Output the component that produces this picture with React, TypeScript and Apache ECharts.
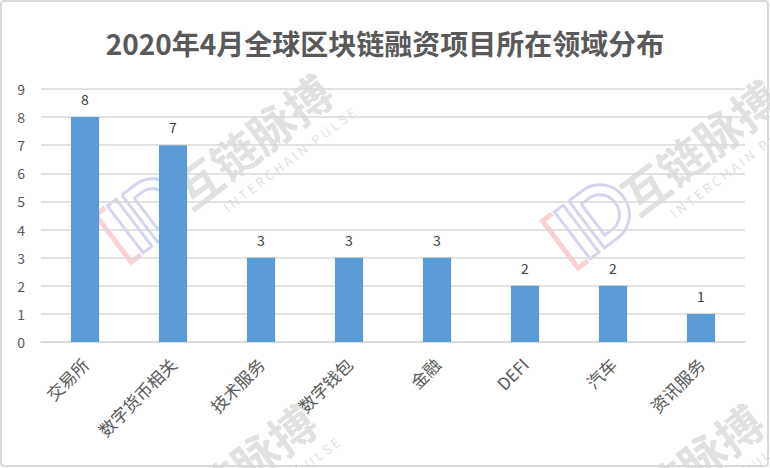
import React, { useEffect, useRef } from "react";
import * as echarts from "echarts";

const titleText = "2020年4月全球区块链融资项目所在领域分布";
const categories = ["交易所", "数字货币相关", "技术服务", "数字钱包", "金融", "DEFI", "汽车", "资讯服务"];
const values = [8, 7, 3, 3, 3, 2, 2, 1];
const yTicks = [0, 1, 2, 3, 4, 5, 6, 7, 8, 9];

const FONT = "'Noto Sans CJK SC', 'Noto Sans', sans-serif";

function watermark(cx: number, cy: number) {
  const rot = 0.65;
  const purple = "rgba(105,105,205,0.28)";
  const red = "rgba(240,85,95,0.28)";
  const lx = 25;
  const ly = -13;
  return {
    type: "group",
    x: cx,
    y: cy,
    rotation: rot,
    silent: true,
    children: [
      {
        type: "text",
        x: 0,
        y: 0,
        style: {
          text: "互链脉搏",
          font: `bold 46px ${FONT}`,
          fill: "rgba(120,120,120,0.24)",
          align: "center",
          verticalAlign: "middle",
        },
      },
      {
        type: "text",
        x: 18,
        y: 38,
        style: {
          text: "I N T E R C H A I N   P U L S E",
          font: `13px ${FONT}`,
          fill: "rgba(120,120,120,0.24)",
          align: "center",
          verticalAlign: "middle",
        },
      },
      {
        type: "group",
        x: lx,
        y: ly,
        children: [
          {
            type: "polyline",
            shape: { points: [[-183, -22], [-195, -22], [-195, 37], [-183, 37]] },
            style: { fill: "none", stroke: red, lineWidth: 5 },
          },
          {
            type: "rect",
            shape: { x: -180, y: -22, width: 11, height: 59 },
            style: { fill: "none", stroke: purple, lineWidth: 3 },
          },
          {
            type: "rect",
            shape: { x: -162, y: -22, width: 46, height: 59, r: [0, 29, 29, 0] },
            style: { fill: "none", stroke: purple, lineWidth: 3 },
          },
          {
            type: "rect",
            shape: { x: -154, y: -12, width: 28, height: 39, r: [0, 19, 19, 0] },
            style: { fill: "none", stroke: purple, lineWidth: 3 },
          },
        ],
      },
    ],
  };
}

export default function App() {
  const ref = useRef<HTMLDivElement>(null);
  useEffect(() => {
    document.body.style.margin = "0";
    const chart = echarts.init(ref.current!, null, { renderer: "svg" });
    chart.setOption({
      animation: false,
      backgroundColor: "#ffffff",
      title: {
        text: titleText,
        left: "center",
        top: 24,
        textStyle: {
          fontFamily: FONT,
          fontSize: 28,
          fontWeight: "bold",
          color: "#595959",
        },
      },
      grid: { left: 41, right: 25, top: 89, bottom: 126, containLabel: false },
      xAxis: {
        type: "category",
        data: categories,
        axisLine: { show: true, lineStyle: { color: "#d9d9d9", width: 1.5 } },
        axisTick: { show: false },
        axisLabel: {
          rotate: 45,
          interval: 0,
          margin: 19,
          fontFamily: FONT,
          fontSize: 17,
          color: "#595959",
        },
      },
      yAxis: {
        type: "value",
        min: yTicks[0],
        max: yTicks[yTicks.length - 1],
        interval: 1,
        axisLine: { show: false },
        axisTick: { show: false },
        splitLine: { lineStyle: { color: "#d9d9d9", width: 1.5 } },
        axisLabel: {
          margin: 16,
          fontFamily: FONT,
          fontSize: 14,
          color: "#595959",
        },
      },
      series: [
        {
          type: "bar",
          data: values,
          barWidth: "32%",
          itemStyle: { color: "#5B9BD5" },
          label: {
            show: true,
            position: "top",
            distance: 11,
            fontFamily: FONT,
            fontSize: 14,
            color: "#404040",
          },
        },
      ],
      graphic: [
        watermark(252, 140),
        watermark(699, 146),
        watermark(236, 470),
        watermark(683, 470),
        {
          type: "rect",
          silent: true,
          shape: { x: 1, y: 1, width: 767, height: 465, r: 3 },
          style: { fill: "none", stroke: "#d9d9d9", lineWidth: 2 },
        },
      ],
    });
    return () => chart.dispose();
  }, []);
  return <div ref={ref} style={{ width: 770, height: 468 }} />;
}
